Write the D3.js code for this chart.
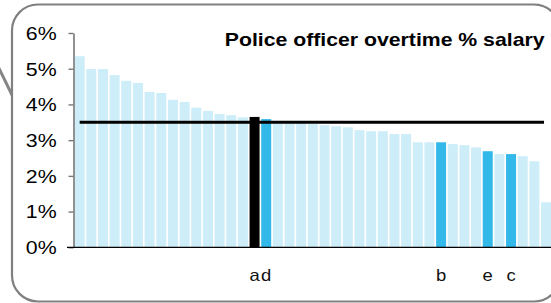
<!DOCTYPE html>
<html>
<head>
<meta charset="utf-8">
<script src="https://cdn.jsdelivr.net/npm/d3@7"></script>
<style>
  body { margin: 0; background: #fff; }
  svg { display: block; font-family: "Liberation Sans", Arial, sans-serif; }
</style>
</head>
<body>
<div id="chart"></div>
<script>
// valores (% de salario en horas extra)
const values = [5.35, 4.99, 4.99, 4.82, 4.66, 4.60, 4.35, 4.32, 4.13, 4.07,
  3.91, 3.82, 3.73, 3.70, 3.64, 3.65, 3.59, 3.52, 3.50, 3.49,
  3.45, 3.42, 3.39, 3.36, 3.28, 3.25, 3.25, 3.17, 3.17, 2.94,
  2.94, 2.94, 2.89, 2.86, 2.80, 2.69, 2.61, 2.61, 2.55, 2.41, 1.26];
// etiquetas de las barras destacadas
const labels = values.map(() => "");
labels[15] = "a"; labels[16] = "d"; labels[31] = "b"; labels[35] = "e"; labels[37] = "c";
const yTicks = [0, 1, 2, 3, 4, 5, 6];
const average = 3.5;
const title = "Police officer overtime % salary";

const W = 551, H = 303;
const svg = d3.select("#chart").append("svg")
  .attr("width", W)
  .attr("height", H);

// marco redondeado y linea diagonal
svg.append("line")
  .attr("x1", -6).attr("y1", 58)
  .attr("x2", 13).attr("y2", 97)
  .attr("stroke", "#858585")
  .attr("stroke-width", 3);

svg.append("rect")
  .attr("x", 12).attr("y", 4.5)
  .attr("width", 548).attr("height", 297)
  .attr("rx", 26).attr("ry", 26)
  .attr("fill", "#fff")
  .attr("stroke", "#808080")
  .attr("stroke-width", 2.2);

const idx = values.map((d, i) => i);

// escalas
const x = d3.scaleBand()
  .domain(idx)
  .range([73.5, 552.2])
  .paddingInner(0.142)
  .paddingOuter(0.1);

const y = d3.scaleLinear()
  .domain([0, 6])
  .range([247.3, 33]);

// barras
svg.append("g").selectAll("rect")
  .data(values)
  .enter().append("rect")
  .attr("x", (d, i) => x(i))
  .attr("width", x.bandwidth())
  .attr("y", d => y(d))
  .attr("height", d => y(0) - y(d))
  .attr("fill", (d, i) => labels[i] === "a" ? "#000" : (labels[i] ? "#33b9e9" : "#cdedf9"));

// linea de referencia
svg.append("line")
  .attr("x1", x(0) + x.bandwidth() / 2)
  .attr("x2", x(values.length - 1) + x.bandwidth() / 2 - 2)
  .attr("y1", y(average))
  .attr("y2", y(average))
  .attr("stroke", "#000")
  .attr("stroke-width", 3);

// eje Y
const yAxis = svg.append("g")
  .attr("transform", "translate(73.5,0)")
  .call(d3.axisLeft(y).tickValues(yTicks).tickFormat(d => d + "%").tickSize(5).tickSizeOuter(0));
yAxis.select(".domain").attr("stroke", "#777").attr("stroke-width", 1.6);
yAxis.selectAll(".tick line").attr("stroke", "#777").attr("stroke-width", 1.4);
yAxis.selectAll(".tick text")
  .attr("x", -13.8)
  .attr("dy", "0.36em")
  .attr("transform", "scale(1.22,1)")
  .style("font-family", "'Liberation Sans', Arial, sans-serif")
  .style("font-size", "17.5px")
  .attr("fill", "#000");

// linea base
svg.append("line")
  .attr("x1", 67).attr("x2", W)
  .attr("y1", y(0)).attr("y2", y(0))
  .attr("stroke", "#000")
  .attr("stroke-width", 1.2);

// eje X con etiquetas
const xAxis = svg.append("g")
  .attr("transform", `translate(0,${y(0)})`)
  .call(d3.axisBottom(x).tickFormat(i => labels[i]).tickSize(0).tickPadding(0));
xAxis.select(".domain").remove();
xAxis.selectAll(".tick text")
  .attr("y", 34)
  .attr("dy", 0)
  .attr("transform", "scale(1.12,1)")
  .attr("x", 0)
  .style("font-family", "'Liberation Sans', Arial, sans-serif")
  .style("font-size", "16.5px")
  .style("font-weight", "normal")
  .attr("fill", "#111");
xAxis.selectAll(".tick")
  .attr("transform", i => `translate(${x(i) + x.bandwidth() / 2},0)`);

// titulo
svg.append("text")
  .attr("transform", "translate(544.5,45.7) scale(1.18,1)")
  .attr("text-anchor", "end")
  .style("font-size", "18px")
  .style("font-weight", "bold")
  .attr("fill", "#000")
  .text(title);
</script>
</body>
</html>
